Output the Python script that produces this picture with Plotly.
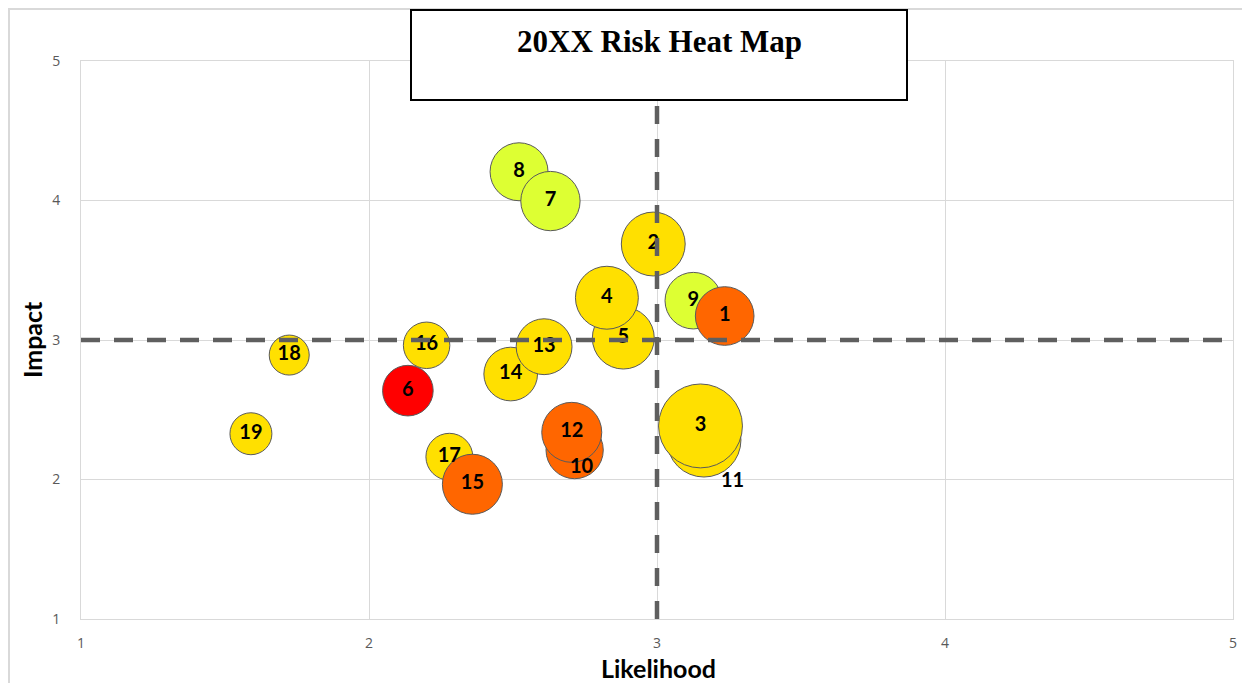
import plotly.graph_objects as go

# ---- data (listed in drawing order: later points are drawn on top) ----
RISK_ID    = ["19", "18", "17", "16", "15", "14", "13", "10", "12", "11", "9", "8", "7", "6", "5", "4", "3", "2", "1"]
LIKELIHOOD = [1.590, 1.723, 2.279, 2.200, 2.359, 2.492, 2.608, 2.714, 2.704, 3.163, 3.126, 2.521, 2.630, 2.135, 2.883, 2.826, 3.151, 2.987, 3.235]
IMPACT     = [2.328, 2.892, 2.163, 2.962, 1.966, 2.756, 2.952, 2.211, 2.338, 2.283, 3.282, 4.206, 3.996, 2.637, 3.014, 3.303, 2.384, 3.688, 3.172]
SEVERITY   = [4.4, 4.0, 5.5, 5.4, 9.0, 7.2, 7.8, 8.2, 9.0, 13.7, 8.0, 8.4, 8.8, 6.4, 9.6, 9.9, 17.6, 10.2, 8.6]
RATING     = ["Medium", "Medium", "Medium", "Medium", "High", "Medium", "Medium", "High", "High", "Medium",
              "Low", "Low", "Low", "Critical", "Medium", "Medium", "Medium", "Medium", "High"]

X_TICKS = [1, 2, 3, 4, 5]
Y_TICKS = [1, 2, 3, 4, 5]
X_THRESHOLD = 3
Y_THRESHOLD = 3
TITLE = "20XX Risk Heat Map"

RATING_COLORS = {"Low": "#DDFF33", "Medium": "#FFE000", "High": "#FF6600", "Critical": "#FF0000"}
OFFSET_LABELS = {"10": (7, -15), "11": (29, -39)}   # labels nudged away from bubble centre

BODY = 8                      # page margin of the html body
W, H = 1250 - BODY, 683 - BODY
ML, MR, MT, MB = 73, 17, 53, 64
PW, PH = W - ML - MR, H - MT - MB


def px_x(p):                  # page pixel -> paper coordinate
    return (p - BODY - ML) / PW


def px_y(p):
    return (H - MB - (p - BODY)) / PH


LABEL_FONT = dict(family="Lato", size=20, color="black", weight="bold")

fig = go.Figure()

fig.add_trace(go.Scatter(
    x=LIKELIHOOD, y=IMPACT,
    mode="markers+text",
    text=["" if r in OFFSET_LABELS else r for r in RISK_ID],
    textposition="middle center",
    textfont=LABEL_FONT,
    marker=dict(
        size=SEVERITY, sizemode="area", sizeref=0.005,
        color=[RATING_COLORS[r] for r in RATING],
        opacity=1,
        line=dict(color="#5a5a5a", width=1),
    ),
    hoverinfo="text", hovertext=RISK_ID,
    showlegend=False,
))

# quadrant dividers
fig.add_trace(go.Scatter(
    x=[X_TICKS[0], X_TICKS[-1]], y=[Y_THRESHOLD, Y_THRESHOLD], mode="lines",
    line=dict(color="#5f5f5f", width=4.5, dash="19px,14px"),
    hoverinfo="skip", showlegend=False,
))
fig.add_trace(go.Scatter(
    x=[X_THRESHOLD, X_THRESHOLD], y=[Y_TICKS[0], Y_TICKS[-1]], mode="lines",
    line=dict(color="#5f5f5f", width=4.5, dash="18px,15px"),
    hoverinfo="skip", showlegend=False,
))

annotations = []
for rid, (dx, dy) in OFFSET_LABELS.items():
    i = RISK_ID.index(rid)
    annotations.append(dict(
        x=LIKELIHOOD[i], y=IMPACT[i], xref="x", yref="y", text=rid, showarrow=False,
        xshift=dx, yshift=dy, font=LABEL_FONT,
    ))

annotations += [
    dict(text="<b>" + TITLE + "</b>", xref="paper", yref="paper",
         x=px_x(659), y=px_y(42), xanchor="center", yanchor="middle", showarrow=False,
         font=dict(family="Liberation Serif", size=31, color="black")),
    dict(text="<b>Likelihood</b>", xref="paper", yref="paper",
         x=px_x(658), y=px_y(668), xanchor="center", yanchor="middle", showarrow=False,
         font=dict(family="Lato", size=25, color="black")),
    dict(text="<b>Impact</b>", xref="paper", yref="paper", textangle=-90,
         x=px_x(32), y=px_y(340), xanchor="center", yanchor="middle", showarrow=False,
         font=dict(family="Lato", size=25, color="black")),
]

shapes = [
    # outer chart border
    dict(type="rect", xref="paper", yref="paper",
         x0=px_x(9), x1=px_x(1265), y0=px_y(700), y1=px_y(9),
         line=dict(color="#d9d9d9", width=2), fillcolor="rgba(0,0,0,0)", layer="below"),
    # title box
    dict(type="rect", xref="paper", yref="paper",
         x0=px_x(411), x1=px_x(907), y0=px_y(100), y1=px_y(10),
         line=dict(color="black", width=2), fillcolor="white", layer="above"),
]

axis_common = dict(
    showgrid=True, gridcolor="#d9d9d9", gridwidth=1,
    zeroline=False, showline=True, linecolor="#d9d9d9", linewidth=1, mirror=True,
    ticks="", tickfont=dict(family="Open Sans", size=14, color="#595959"),
    tickmode="array", fixedrange=True,
)

fig.update_layout(
    width=W, height=H, autosize=False,
    margin=dict(l=ML, r=MR, t=MT, b=MB),
    paper_bgcolor="white", plot_bgcolor="white",
    xaxis=dict(range=[X_TICKS[0], X_TICKS[-1]], tickvals=X_TICKS, ticklabelstandoff=11, **axis_common),
    yaxis=dict(range=[Y_TICKS[0], Y_TICKS[-1]], tickvals=Y_TICKS, ticklabelstandoff=17, **axis_common),
    annotations=annotations, shapes=shapes,
)

fig.write_html("out.html")
